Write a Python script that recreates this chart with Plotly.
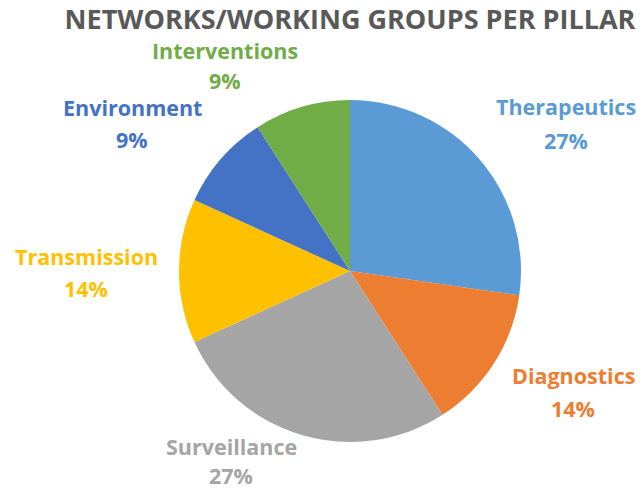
import plotly.graph_objects as go

# pillars and number of networks / working groups in each
pillars = ['Therapeutics', 'Diagnostics', 'Surveillance', 'Transmission', 'Environment', 'Interventions']
counts = [6, 3, 6, 3, 2, 2]
colours = ['#5B9BD5', '#ED7D31', '#A5A5A5', '#FFC000', '#4472C4', '#70AD47']

# where each outside label sits (pixels from top-left): name line / percent line
label_x = [566, 573, 231, 86, 132, 225]
name_y = [107, 375, 446, 256, 108, 50]
pct_y = [140, 408, 475, 288, 139, 81]

W, H = 643, 490
total = sum(counts)

fig = go.Figure()
fig.add_trace(go.Pie(labels=pillars, values=counts,
                     marker=dict(colors=colours, line=dict(width=0)),
                     sort=False, direction='clockwise', rotation=0,
                     textinfo='none', hoverinfo='label+percent',
                     domain=dict(x=[(350 - 171) / W, (350 + 171) / W],
                                 y=[(219 - 171) / H, (219 + 171) / H])))

for name, n, col, lx, ny, py in zip(pillars, counts, colours, label_x, name_y, pct_y):
    pct = round(n / total * 100)
    for txt, yy in [(name, ny), ('%d%%' % pct, py)]:
        fig.add_annotation(x=lx / W, y=1 - yy / H, xref='paper', yref='paper',
                           xanchor='center', yanchor='middle',
                           text='<b>%s</b>' % txt, showarrow=False,
                           font=dict(family='Open Sans', size=21.5, color=col))

fig.update_layout(width=W, height=H, showlegend=False,
                  margin=dict(l=0, r=0, t=0, b=0),
                  paper_bgcolor='white', plot_bgcolor='white',
                  title=dict(text='<b>NETWORKS/WORKING GROUPS PER PILLAR</b>',
                             x=350 / W, xanchor='center', y=1 - 20 / H, yanchor='middle',
                             font=dict(family='Open Sans', size=27, color='#595959')))

# page body has a default margin, drop it so the figure sits at 0,0
fig.write_html("out.html", config={'displayModeBar': False},
               post_script="document.body.style.margin='0';")
